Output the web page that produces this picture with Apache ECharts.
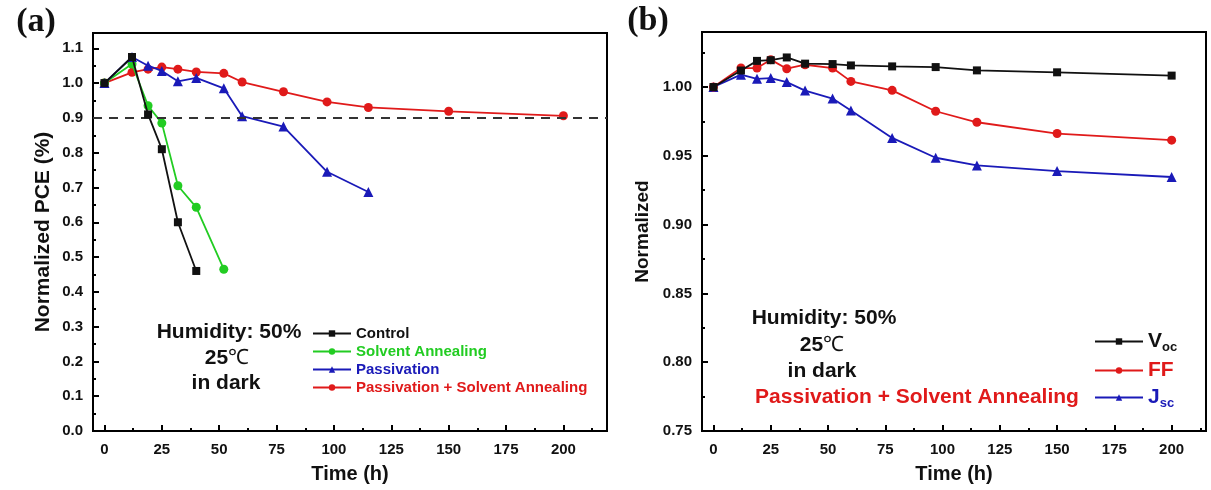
<!DOCTYPE html>
<html>
<head>
<meta charset="UTF-8">
<title></title>
<script src="https://cdn.jsdelivr.net/npm/echarts@6/dist/echarts.min.js"></script>
</head>
<body style="margin:0;background:#fff">
<div id="main" style="width:1211px;height:490px;"></div>
<script>
// time points (h)
var timeAll = [0, 12, 19, 25, 32, 40, 52, 60, 78, 97, 115, 150, 200];

// panel (a): normalized PCE
var pceControl = [1.0, 1.075, 0.91, 0.81, 0.60, 0.46];
var pceSolvent = [1.0, 1.055, 0.935, 0.885, 0.705, 0.643, 0.465];
var pcePassivation = [1.0, 1.075, 1.05, 1.035, 1.005, 1.015, 0.985, 0.905, 0.875, 0.745, 0.687];
var pcePassSolvent = [1.0, 1.031, 1.040, 1.046, 1.040, 1.032, 1.028, 1.003, 0.975, 0.946, 0.930, 0.919, 0.906];

// panel (b): normalized Voc, FF, Jsc (passivation + solvent annealing)
var voc = [1.0, 1.012, 1.019, 1.0195, 1.0215, 1.017, 1.0167, 1.0157, 1.015, 1.0145, 1.0121, 1.0107, 1.0083];
var ff = [1.0, 1.0138, 1.0138, 1.0199, 1.0133, 1.0162, 1.0138, 1.0041, 0.9976, 0.9824, 0.9744, 0.9662, 0.9614];
var jsc = [1.0, 1.009, 1.006, 1.0065, 1.0036, 0.9974, 0.9916, 0.9829, 0.963, 0.9486, 0.943, 0.9389, 0.9346];

var xTicks = [0, 25, 50, 75, 100, 125, 150, 175, 200];
var xMinorTicks = [12.5, 37.5, 62.5, 87.5, 112.5, 137.5, 162.5, 187.5, 212.5];
var yTicksA = [0, 0.1, 0.2, 0.3, 0.4, 0.5, 0.6, 0.7, 0.8, 0.9, 1.0, 1.1];
var yMinorA = [0.05, 0.15, 0.25, 0.35, 0.45, 0.55, 0.65, 0.75, 0.85, 0.95, 1.05];
var yTicksB = [0.75, 0.80, 0.85, 0.90, 0.95, 1.00];
var yMinorB = [0.775, 0.825, 0.875, 0.925, 0.975, 1.025];

function pairs(vals) {
    return vals.map(function (v, i) { return [timeAll[i], v]; });
}

var font = 'Liberation Sans, Arial, sans-serif';
var myChart = echarts.init(document.getElementById('main'));

function majorX(gi, min, max) {
    return {
        type: 'value', gridIndex: gi, min: min, max: max, position: 'bottom',
        name: 'Time (h)', nameLocation: 'middle', nameGap: 33,
        nameTextStyle: {fontFamily: font, fontWeight: 'bold', fontSize: 20, color: '#111'},
        axisLine: {onZero: false, lineStyle: {color: '#000', width: 2}},
        axisTick: {inside: true, length: 6, customValues: xTicks, lineStyle: {color: '#000', width: 2}},
        axisLabel: {customValues: xTicks, margin: 11, fontFamily: font, fontWeight: 'bold', fontSize: 15, color: '#111'},
        splitLine: {show: false}
    };
}
function minorX(gi, min, max) {
    return {
        type: 'value', gridIndex: gi, min: min, max: max, position: 'bottom',
        axisLine: {show: false, onZero: false},
        axisTick: {inside: true, length: 3, customValues: xMinorTicks, lineStyle: {color: '#000', width: 2}},
        axisLabel: {show: false}, splitLine: {show: false}
    };
}
function majorY(gi, min, max, ticks, digits, name, gap, nameSize) {
    return {
        type: 'value', gridIndex: gi, min: min, max: max, position: 'left',
        name: name, nameLocation: 'middle', nameGap: gap,
        nameTextStyle: {fontFamily: font, fontWeight: 'bold', fontSize: nameSize, color: '#111'},
        axisLine: {onZero: false, lineStyle: {color: '#000', width: 2}},
        axisTick: {inside: true, length: 6, customValues: ticks, lineStyle: {color: '#000', width: 2}},
        axisLabel: {customValues: ticks, margin: 10, fontFamily: font, fontWeight: 'bold', fontSize: 15, color: '#111',
            formatter: function (v) { return v.toFixed(digits); }},
        splitLine: {show: false}
    };
}
function minorY(gi, min, max, ticks) {
    return {
        type: 'value', gridIndex: gi, min: min, max: max, position: 'left',
        axisLine: {show: false, onZero: false},
        axisTick: {inside: true, length: 3, customValues: ticks, lineStyle: {color: '#000', width: 2}},
        axisLabel: {show: false}, splitLine: {show: false}
    };
}
function line(name, data, color, symbol, size, xi, yi, z) {
    return {
        name: name, type: 'line', data: data, xAxisIndex: xi, yAxisIndex: yi,
        symbol: symbol, symbolSize: size, z: z || 2,
        lineStyle: {color: color, width: 1.8},
        itemStyle: {color: color},
        emphasis: {disabled: true}, animation: false
    };
}

var txt = function (x, y, text, size, color) {
    return {
        type: 'text', x: x, y: y,
        style: {text: text, fontFamily: font, fontWeight: 'bold', fontSize: size, fill: color || '#111',
            align: 'center', verticalAlign: 'middle'}
    };
};
var deg = function (x, y, size) {
    return {
        type: 'text', x: x, y: y,
        style: {text: '{n|25}{c|℃}', align: 'center', verticalAlign: 'middle',
            rich: {n: {fontFamily: font, fontWeight: 'bold', fontSize: size, fill: '#111'},
                   c: {fontFamily: 'Liberation Serif, serif', fontSize: size, fill: '#111'}}}
    };
};

var option = {
    backgroundColor: '#fff',
    animation: false,
    grid: [
        {left: 93, top: 33, width: 514, height: 398, show: true, borderColor: '#000', borderWidth: 2},
        {left: 702, top: 32, width: 504, height: 399, show: true, borderColor: '#000', borderWidth: 2}
    ],
    xAxis: [majorX(0, -5, 219), minorX(0, -5, 219), majorX(1, -5, 215), minorX(1, -5, 215)],
    yAxis: [
        majorY(0, 0, 1.144, yTicksA, 1, 'Normalized PCE (%)', 39, 21),
        minorY(0, 0, 1.144, yMinorA),
        majorY(1, 0.75, 1.04, yTicksB, 2, 'Normalized', 50, 19),
        minorY(1, 0.75, 1.04, yMinorB)
    ],
    legend: [
        {
            left: 307, top: 321, orient: 'vertical', itemWidth: 38, itemHeight: 8, itemGap: 3,
            textStyle: {fontFamily: font, fontWeight: 'bold', fontSize: 15},
            data: [
                {name: 'Control', textStyle: {color: '#111'}},
                {name: 'Solvent Annealing', textStyle: {color: '#22cc22'}},
                {name: 'Passivation', textStyle: {color: '#1a1ab8'}},
                {name: 'Passivation + Solvent Annealing', textStyle: {color: '#e01a1a'}}
            ]
        },
        {
            left: 1089, top: 326, orient: 'vertical', itemWidth: 48, itemHeight: 8, itemGap: 6,
            textStyle: {fontFamily: font, fontWeight: 'bold', fontSize: 20,
                rich: {
                    vb: {fontFamily: font, fontWeight: 'bold', fontSize: 21, color: '#111'},
                    vs: {fontFamily: font, fontWeight: 'bold', fontSize: 13, color: '#111', padding: [12, 0, 0, 0]},
                    fb: {fontFamily: font, fontWeight: 'bold', fontSize: 21, color: '#e01a1a'},
                    jb: {fontFamily: font, fontWeight: 'bold', fontSize: 21, color: '#1a1ab8'},
                    js: {fontFamily: font, fontWeight: 'bold', fontSize: 13, color: '#1a1ab8', padding: [12, 0, 0, 0]}
                }},
            formatter: function (n) {
                if (n === 'Voc') return '{vb|V}{vs|oc}';
                if (n === 'FF') return '{fb|FF}';
                return '{jb|J}{js|sc}';
            },
            data: ['Voc', 'FF', 'Jsc']
        }
    ],
    graphic: [
        {type: 'text', x: 36, y: 22, style: {text: '(a)', fontFamily: 'Liberation Serif, serif', fontWeight: 'bold', fontSize: 34, fill: '#111', align: 'center', verticalAlign: 'middle'}},
        {type: 'text', x: 648, y: 21, style: {text: '(b)', fontFamily: 'Liberation Serif, serif', fontWeight: 'bold', fontSize: 34, fill: '#111', align: 'center', verticalAlign: 'middle'}},
        txt(229, 332, 'Humidity: 50%', 21),
        deg(227, 358, 21),
        txt(226, 383, 'in dark', 21),
        txt(824, 318, 'Humidity: 50%', 21),
        deg(822, 345, 21),
        txt(822, 371, 'in dark', 21),
        txt(917, 397, 'Passivation + Solvent Annealing', 21, '#e01a1a')
    ],
    series: [
        (function () {
            var s = line('Control', pairs(pceControl), '#111', 'rect', 8, 0, 0, 5);
            s.markLine = {
                silent: true, symbol: 'none', label: {show: false},
                lineStyle: {color: '#333', type: [9, 7], width: 2},
                data: [{yAxis: 0.9}]
            };
            return s;
        })(),
        line('Solvent Annealing', pairs(pceSolvent), '#22cc22', 'circle', 9, 0, 0, 3),
        line('Passivation', pairs(pcePassivation), '#1a1ab8', 'triangle', 10, 0, 0, 4),
        line('Passivation + Solvent Annealing', pairs(pcePassSolvent), '#e01a1a', 'circle', 9, 0, 0, 2),
        line('Jsc', pairs(jsc), '#1a1ab8', 'triangle', 10, 2, 2, 2),
        line('FF', pairs(ff), '#e01a1a', 'circle', 9, 2, 2, 3),
        line('Voc', pairs(voc), '#111', 'rect', 8, 2, 2, 4)
    ]
};
myChart.setOption(option);
</script>
</body>
</html>
